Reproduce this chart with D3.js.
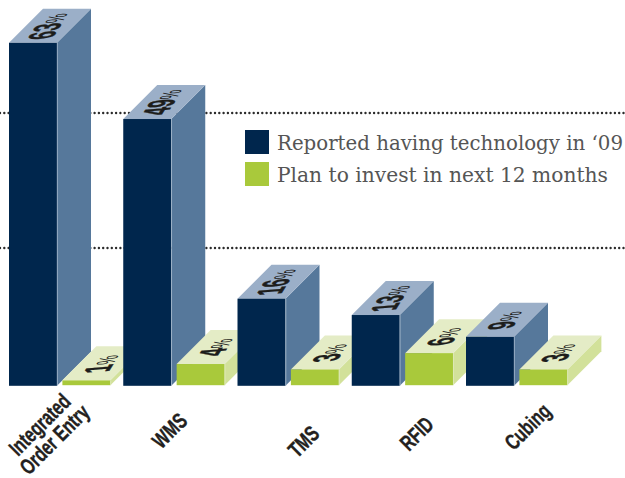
<!DOCTYPE html>
<html>
<head>
<meta charset="utf-8">
<script src="https://cdn.jsdelivr.net/npm/d3@7/dist/d3.min.js"></script>
<style>html,body{margin:0;padding:0;background:#fff}svg{display:block}</style>
</head>
<body>
<svg id="chart" width="625" height="478"></svg>
<script>
const categories = ["Integrated Order Entry", "WMS", "TMS", "RFID", "Cubing"];
const haveTech = [63, 49, 16, 13, 9];
const planInvest = [1, 4, 3, 6, 3];
const gridValues = [25.3, 50.1];
const seriesNames = ["Reported having technology in ‘09", "Plan to invest in next 12 months"];

const svg = d3.select("#chart");
const depth = 34, barW = 48, labelFont = "'Liberation Sans',sans-serif";

const y = d3.scaleLinear().domain([0, 63]).range([385.8, 42.8]);
const x = d3.scalePoint().domain(categories).range([9, 466]);
const offset = d3.scaleOrdinal().domain(["have", "plan"]).range([0, 53.4]);

const palette = {
  have: { front: "#00264d", side: "#56789b", top: "#9bafc8", edge: "#b9c9da" },
  plan: { front: "#a9c93b", side: "#d2e19a", top: "#e4ecc6", edge: "#e4ecc6" }
};

// Dotted reference lines sit behind the bars
svg.append("g").selectAll("line").data(gridValues).join("line")
  .attr("x1", 0).attr("x2", 625)
  .attr("y1", d => y(d)).attr("y2", d => y(d))
  .attr("stroke", "#2b2b2b").attr("stroke-width", 2.4)
  .attr("stroke-linecap", "round").attr("stroke-dasharray", "0 4.3");

// One extruded bar: front face, side face, top face and the skewed value on top
function drawBar(g, key, cat, value) {
  const c = palette[key];
  const x0 = x(cat) + offset(key), x1 = x0 + barW;
  const yt = y(value), yb = y(0) - (key === "plan" ? 0.6 : 0);
  const poly = pts => pts.map(p => p.join(",")).join(" ");
  g.append("polygon").attr("fill", c.side)
    .attr("points", poly([[x1, yt], [x1 + depth, yt - depth], [x1 + depth, yb - depth], [x1, yb]]));
  g.append("polygon").attr("fill", c.top)
    .attr("points", poly([[x0, yt], [x0 + depth, yt - depth], [x1 + depth, yt - depth], [x1, yt]]));
  g.append("rect").attr("fill", c.front)
    .attr("x", x0).attr("y", yt).attr("width", barW).attr("height", yb - yt);
  g.append("line").attr("stroke", c.edge).attr("stroke-width", 0.7)
    .attr("x1", x1 + 0.3).attr("x2", x1 + 0.3).attr("y1", yt).attr("y2", yb);

  // Text advances up the receding edge of the top face, glyphs stretched across it
  const tx = x0 + barW / 2 + depth / 2 - 3, ty = yt - depth / 2 + 1;
  const label = g.append("text")
    .attr("transform", `translate(${tx},${ty}) matrix(0.45,-0.72,1.85,-0.16,0,0)`)
    .attr("text-anchor", "middle").attr("dy", "0.36em")
    .attr("font-family", labelFont).attr("font-weight", 700)
    .attr("font-size", 20).attr("fill", "#1d1d1b")
    .attr("stroke", "#1d1d1b").attr("stroke-width", 0.35);
  label.append("tspan").text(value);
  label.append("tspan").attr("font-size", 14).attr("font-weight", 400)
    .attr("stroke-width", 0).text("%");
}

categories.forEach((cat, i) => {
  const g = svg.append("g");
  drawBar(g, "have", cat, haveTech[i]);
  drawBar(g, "plan", cat, planInvest[i]);
});

// Slanted category labels under each group
const labelAnchor = [[40, 425], [170, 431], [304, 442], [417, 434], [528, 427]];
const labelLines = categories.map(c => c === "Integrated Order Entry" ? ["Integrated", "Order Entry"] : [c]);
labelLines.forEach((lines, i) => {
  const t = svg.append("text")
    .attr("transform", `translate(${labelAnchor[i][0]},${labelAnchor[i][1]}) rotate(-45) scale(0.72,1)`)
    .attr("text-anchor", "middle").attr("font-family", labelFont)
    .attr("font-weight", 700).attr("font-size", 22).attr("fill", "#231f20")
    .attr("stroke", "#231f20").attr("stroke-width", 0.4);
  lines.forEach((l, k) => t.append("tspan").attr("x", 0).attr("dy", k ? 21 : 7).text(l));
});

// Legend
const legendWidths = [346, 331];
const legend = svg.append("g");
seriesNames.forEach((name, i) => {
  const ly = 130 + i * 32;
  legend.append("rect").attr("x", 245).attr("y", ly).attr("width", 24).attr("height", 24)
    .attr("fill", i ? palette.plan.front : palette.have.front);
  legend.append("text").attr("x", 277).attr("y", ly + 20)
    .attr("font-family", "'DejaVu Serif',serif").attr("font-size", 19.6)
    .attr("textLength", legendWidths[i]).attr("lengthAdjust", "spacingAndGlyphs")
    .attr("fill", "#555").text(name);
});
</script>
</body>
</html>
